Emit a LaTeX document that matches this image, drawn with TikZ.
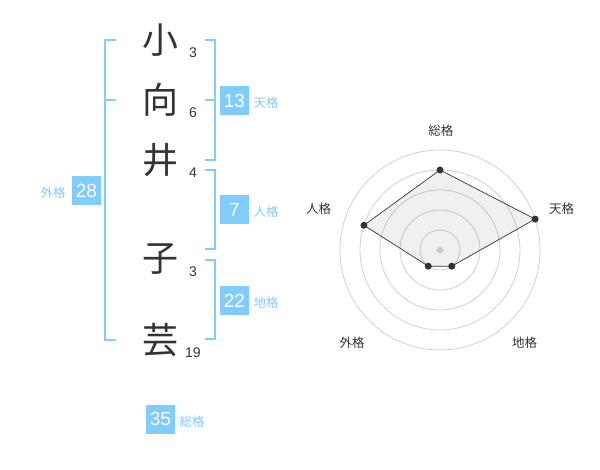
\documentclass[tikz,border=0pt]{standalone}
\usepackage{fontspec}
\setmainfont{Liberation Sans}
\newfontfamily\jp{Noto Sans CJK JP}
\definecolor{sky}{RGB}{128,204,250}
\definecolor{ink}{RGB}{51,51,51}
\definecolor{ring}{RGB}{208,208,208}
\definecolor{dotg}{RGB}{200,200,200}
\begin{document}
\begin{tikzpicture}[x=1pt,y=-1pt,
  kanji/.style={font=\jp\fontsize{36}{36}\selectfont, text=ink, inner sep=0},
  strokes/.style={font=\fontsize{14}{14}\selectfont, text=ink, anchor=base, inner sep=0},
  numbox/.style={fill=sky, text=white, minimum size=29pt, inner sep=0, font=\fontsize{19}{19}\selectfont},
  lbl/.style={text=sky, font=\jp\fontsize{12.5}{12.5}\selectfont, inner sep=0},
  brk/.style={draw=sky, line width=2pt},
  axlbl/.style={text=ink, font=\jp\fontsize{12.5}{12.5}\selectfont, inner sep=0},
  ringline/.style={draw=ring, line width=0.8pt},
  pt/.style={circle, fill=ink, inner sep=0, minimum size=7pt}
]
\useasboundingbox (0,0) rectangle (600,470);

% kanji
\node[kanji] (k1) at (160,40) {小};
\node[kanji] (k2) at (160,100) {向};
\node[kanji] (k3) at (160,160) {井};
\node[kanji] (k4) at (160,259.5) {子};
\node[kanji] (k5) at (160,340) {芸};

% stroke counts
\node[strokes] (s1) at (193,57.3) {3};
\node[strokes] (s2) at (193,117.5) {6};
\node[strokes] (s3) at (193,177.5) {4};
\node[strokes] (s4) at (193,277) {3};
\node[strokes] (s5) at (193,357.5) {19};

% brackets
\draw[brk] (116,40) -- (105,40) -- (105,340) -- (116,340);
\draw[brk] (105,100) -- (116,100);
\draw[brk] (205,40) -- (215,40) -- (215,160) -- (205,160);
\draw[brk] (205,100) -- (215,100);
\draw[brk] (205,170) -- (215,170) -- (215,249.5) -- (205,249.5);
\draw[brk] (205,260) -- (215,260) -- (215,339.5) -- (205,339.5);

% boxes and labels
\node[numbox] (b1) at (234.5,100.5) {13};
\node[lbl] (l1) at (266,103) {天格};
\node[numbox] (b2) at (234.5,209.5) {7};
\node[lbl] (l2) at (266,212) {人格};
\node[numbox] (b3) at (234.5,300.5) {22};
\node[lbl] (l3) at (266,303) {地格};
\node[numbox] (b4) at (86.5,190.5) {28};
\node[lbl] (l4) at (53,193) {外格};
\node[numbox] (b5) at (160.5,419) {35};
\node[lbl] (l5) at (192,422) {総格};

% radar chart
\begin{scope}[shift={(440,250)},y=1pt]
  \foreach \r in {20,40,60,80,100} \draw[ringline] (0,0) circle (\r);
  \coordinate (pA) at (90:80);
  \coordinate (pB) at (18:100);
  \coordinate (pC) at (-54:20);
  \coordinate (pD) at (-126:20);
  \coordinate (pE) at (162:80);
  \draw[ink, line width=0.7pt, fill=black, fill opacity=0.06] (pA) -- (pB) -- (pC) -- (pD) -- (pE) -- cycle;
  \node[circle, fill=dotg, inner sep=0, minimum size=6.5pt] (ctr) at (0,0) {};
  \foreach \p in {pA,pB,pC,pD,pE} \node[pt] at (\p) {};
\end{scope}
\node[axlbl] (a1) at (440.8,130.8) {総格};
\node[axlbl] (a2) at (561.7,208.7) {天格};
\node[axlbl] (a3) at (318.5,208.7) {人格};
\node[axlbl] (a4) at (352,342.5) {外格};
\node[axlbl] (a5) at (524.7,342.5) {地格};
\end{tikzpicture}
\end{document}
